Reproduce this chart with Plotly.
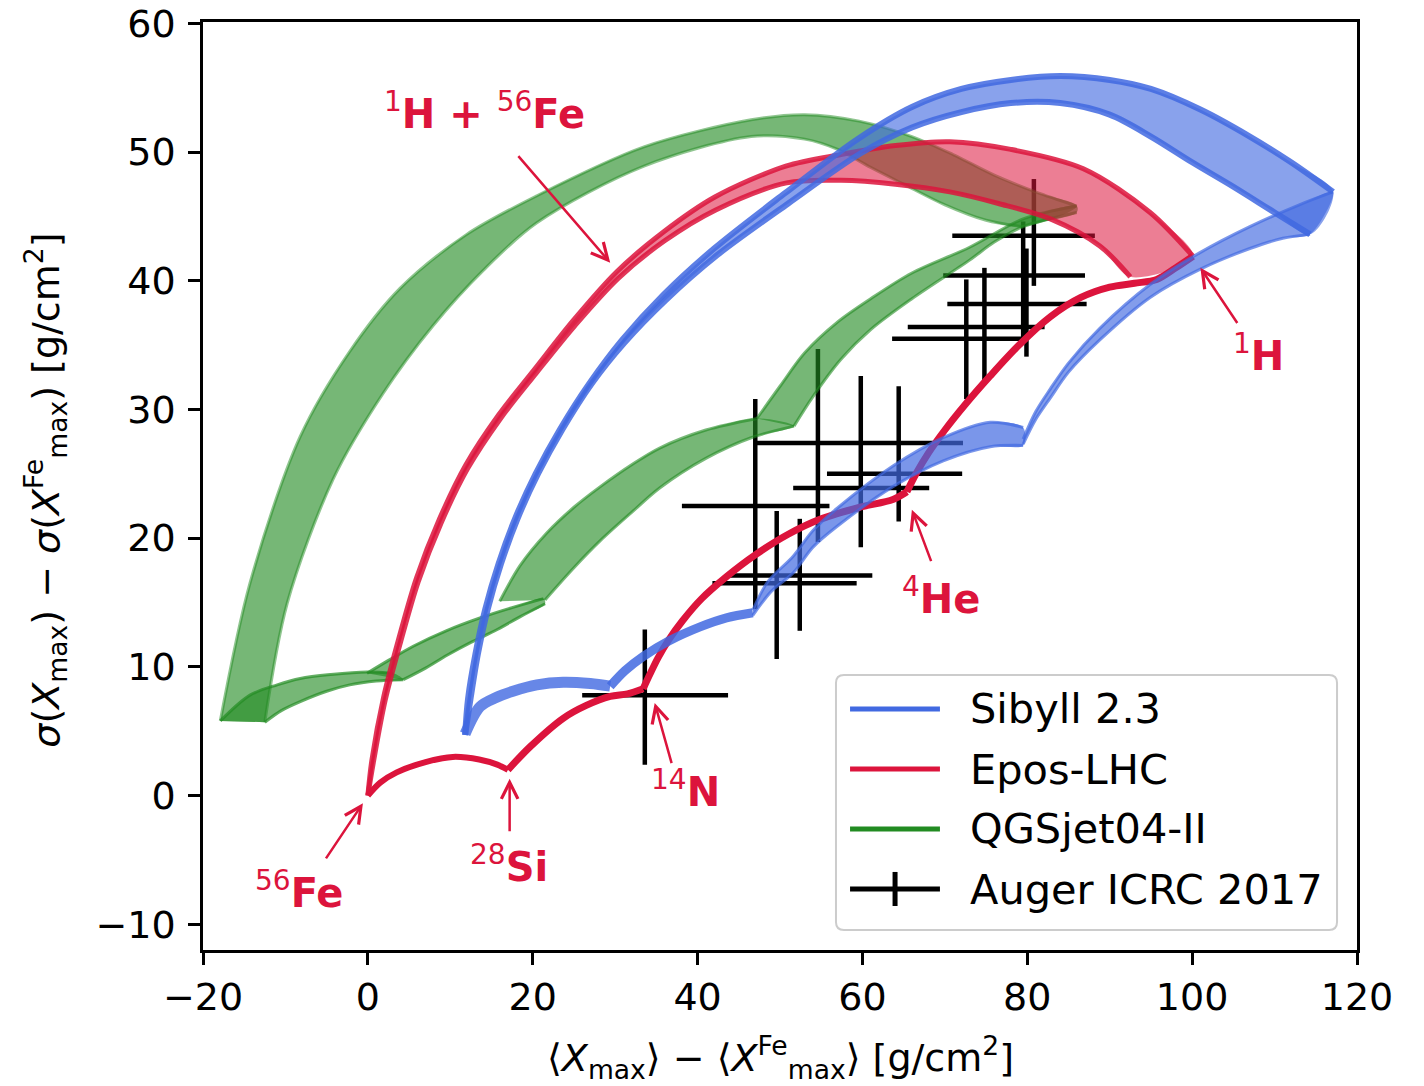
import plotly.graph_objects as go

# ---------------- colours ----------------
BLUE = (65, 105, 225)
RED = (220, 20, 60)
GREEN = (34, 139, 34)

def rgba(c, a):
    return f"rgba({c[0]},{c[1]},{c[2]},{a})"

# ---------------- Auger ICRC 2017 data ----------------
auger_x = [33.6, 49.6, 52.4, 47.0, 54.6, 59.8, 64.4, 72.6, 74.8, 79.5, 79.9, 80.8]
auger_y = [7.8, 16.5, 17.1, 22.5, 27.4, 23.9, 25.0, 35.5, 36.4, 40.4, 38.2, 43.5]
auger_x_lo = [26.0, 41.8, 43.9, 38.1, 47.0, 51.6, 55.7, 63.6, 65.5, 69.8, 70.3, 70.9]
auger_x_hi = [43.7, 59.3, 61.2, 56.0, 72.2, 68.1, 72.1, 80.0, 82.1, 87.0, 87.2, 88.2]
auger_y_lo = [2.4, 10.6, 12.8, 14.5, 19.7, 19.3, 21.3, 30.8, 32.1, 35.5, 34.1, 39.6]
auger_y_hi = [12.9, 22.1, 21.5, 30.8, 34.7, 32.6, 31.8, 40.1, 41.0, 44.6, 42.5, 47.9]

# ---------------- Epos-LHC ----------------
epos_fe_si_x = [0.0, 1.5, 3.5, 7.0, 10.3, 13.5, 15.7, 17.0]
epos_fe_si_y = [0.0, 1.0, 1.8, 2.6, 3.0, 2.8, 2.4, 2.0]
epos_si_n_x = [17.0, 19.7, 23.7, 26.5, 29.4, 31.5, 33.4]
epos_si_n_y = [2.0, 3.8, 6.0, 7.0, 7.7, 7.9, 8.3]
epos_n_he_x = [33.4, 34.2, 35.2, 36.5, 38.2, 40.5, 43.5, 47.0, 51.0, 55.0, 59.7, 63.7, 65.4]
epos_n_he_y = [8.3, 9.4, 10.7, 12.1, 13.6, 15.3, 17.0, 18.7, 20.3, 21.5, 22.4, 23.0, 23.6]
epos_he_h_x = [65.4, 66.5, 68.0, 70.0, 72.5, 75.5, 79.0, 82.8, 86.5, 90.0, 93.0, 95.7, 98.0, 100.1]
epos_he_h_y = [23.6, 25.0, 26.6, 28.4, 30.4, 32.6, 35.0, 37.2, 38.7, 39.5, 39.8, 40.1, 41.0, 41.9]
epos_hfe_hi_x = [0.0, 0.5, 1.9, 3.8, 5.9, 8.7, 11.9, 15.9, 20.2, 24.9, 30.2, 35.9, 42.1, 50.7, 57.4, 64.0, 70.6, 78.0, 86.8, 94.9, 100.1]
epos_hfe_hi_y = [0.0, 2.8, 7.6, 12.3, 16.9, 21.5, 25.7, 29.6, 33.1, 36.9, 40.7, 43.8, 46.5, 48.9, 49.8, 50.5, 50.8, 50.2, 48.7, 45.3, 41.9]
epos_hfe_lo_x = [0.0, 0.7, 2.1, 4.0, 6.1, 8.9, 12.1, 16.1, 20.4, 25.1, 30.4, 36.0, 42.2, 50.8, 57.4, 64.0, 70.6, 76.5, 82.8, 88.8, 92.5]
epos_hfe_lo_y = [0.0, 2.7, 7.4, 12.0, 16.6, 21.2, 25.4, 29.3, 32.8, 36.5, 40.2, 43.1, 45.5, 47.6, 47.8, 47.5, 46.9, 46.0, 44.8, 42.7, 40.3]

# ---------------- Sibyll 2.3 ----------------
sib_fe_si_x = [11.8, 13.6, 15.5, 17.6, 20.5, 23.7, 27.0, 29.4]
sib_fe_si_y = [4.8, 6.9, 7.6, 8.1, 8.6, 8.8, 8.7, 8.5]
sib_si_n_x = [29.4, 31.2, 33.4, 36.5, 40.3, 43.5, 46.7]
sib_si_n_y = [8.5, 9.7, 10.8, 12.0, 13.1, 13.8, 14.2]
sib_n_he_hi_x = [46.7, 48.5, 51.6, 54.0, 56.9, 63.7, 69.8, 75.5, 79.5]
sib_n_he_hi_y = [14.4, 16.6, 18.6, 20.6, 22.3, 25.6, 27.8, 29.0, 28.6]
sib_n_he_lo_x = [46.7, 49.0, 51.6, 54.0, 56.9, 63.7, 69.8, 75.5, 79.5]
sib_n_he_lo_y = [14.0, 15.9, 17.3, 19.3, 20.9, 24.0, 26.0, 27.1, 27.2]
sib_he_h_hi_x = [79.5, 81.0, 82.8, 85.0, 88.8, 94.9, 101.0, 107.0, 113.0, 117.1]
sib_he_h_hi_y = [27.7, 29.8, 31.6, 33.6, 36.3, 39.7, 42.2, 44.2, 45.9, 46.9]
sib_he_h_lo_x = [79.5, 81.0, 82.8, 85.0, 88.8, 94.9, 101.0, 107.0, 111.0, 114.3]
sib_he_h_lo_y = [27.3, 29.2, 30.9, 32.9, 35.4, 38.7, 40.9, 42.5, 43.3, 43.6]
sib_hfe_hi_x = [11.8, 12.15, 13.05, 14.25, 15.85, 17.85, 20.35, 23.35, 26.85, 30.85, 35.85, 42.0, 50.6, 59.4, 66.0, 72.0, 78.0, 84.0, 90.0, 95.0, 101.0, 107.0, 112.0, 117.1]
sib_hfe_hi_y = [4.7, 7.5, 11.0, 14.5, 18.0, 21.5, 25.0, 28.5, 32.0, 35.4, 38.9, 42.5, 46.8, 51.0, 53.5, 54.9, 55.6, 55.9, 55.6, 54.9, 53.3, 51.2, 49.2, 46.9]
sib_hfe_lo_x = [11.8, 12.45, 13.35, 14.55, 16.15, 18.15, 20.65, 23.65, 27.15, 31.15, 36.15, 42.4, 51.0, 59.8, 66.0, 72.0, 78.0, 84.0, 90.0, 95.0, 100.0, 105.0, 110.0, 114.3]
sib_hfe_lo_y = [4.7, 7.5, 11.0, 14.5, 18.0, 21.5, 25.0, 28.5, 32.0, 35.2, 38.5, 42.0, 46.0, 49.9, 51.9, 53.1, 53.8, 53.8, 52.9, 51.2, 49.2, 47.3, 45.3, 43.6]

# ---------------- QGSjet04-II ----------------
qgs_fe_si_hi_x = [-17.9, -14.3, -11.0, -8.2, -4.5, -0.1, 3.1]
qgs_fe_si_hi_y = [5.8, 7.8, 8.6, 9.1, 9.4, 9.6, 9.5]
qgs_fe_si_lo_x = [-12.5, -10.5, -8.2, -5.0, -2.2, 1.0, 4.3]
qgs_fe_si_lo_y = [5.7, 6.6, 7.3, 8.1, 8.6, 8.9, 9.0]
qgs_si_n_hi_x = [-0.1, 2.5, 5.5, 9.5, 13.6, 17.5, 21.3]
qgs_si_n_hi_y = [9.5, 10.5, 11.6, 12.8, 13.8, 14.6, 15.3]
qgs_si_n_lo_x = [4.3, 7.0, 9.6, 12.5, 15.7, 18.5, 21.5]
qgs_si_n_lo_y = [9.0, 9.9, 10.9, 11.9, 12.9, 13.9, 14.9]
qgs_n_he_hi_x = [16.0, 18.5, 21.7, 25.0, 28.2, 32.0, 35.4, 41.0, 47.2]
qgs_n_he_hi_y = [15.1, 17.9, 20.4, 22.4, 24.0, 25.7, 27.0, 28.4, 29.3]
qgs_n_he_lo_x = [21.5, 25.0, 28.2, 32.0, 35.4, 41.0, 46.5, 51.7]
qgs_n_he_lo_y = [15.2, 17.7, 19.8, 22.0, 23.9, 26.2, 27.8, 28.7]
qgs_he_h_hi_x = [47.2, 50.0, 53.0, 57.0, 61.0, 66.0, 73.0, 79.5, 86.0]
qgs_he_h_hi_y = [29.3, 31.8, 34.4, 36.8, 38.6, 40.6, 42.6, 44.8, 45.8]
qgs_he_h_lo_x = [51.7, 54.0, 57.4, 61.0, 66.0, 73.0, 76.0, 79.5, 86.0]
qgs_he_h_lo_y = [28.7, 31.0, 33.9, 36.2, 38.6, 41.6, 43.0, 44.2, 45.3]
qgs_hfe_hi_x = [-17.9, -14.3, -8.2, -2.2, 3.9, 12.0, 20.5, 33.5, 46.5, 53.0, 59.6, 66.0, 71.0, 76.0, 81.0, 86.0]
qgs_hfe_hi_y = [5.8, 16.5, 27.9, 34.5, 39.4, 43.6, 46.6, 50.4, 52.5, 52.9, 52.4, 51.2, 49.8, 48.2, 46.9, 45.8]
qgs_hfe_lo_x = [-12.5, -9.8, -4.2, 1.8, 7.9, 14.0, 20.5, 33.5, 46.5, 53.0, 57.0, 61.0, 65.0, 70.0, 75.0, 79.5]
qgs_hfe_lo_y = [5.7, 14.9, 24.6, 31.2, 36.5, 40.8, 44.5, 48.9, 51.2, 51.0, 50.2, 48.8, 47.5, 45.9, 44.7, 44.2]

# ---------------- labels ----------------
x_ticks = [-20, 0, 20, 40, 60, 80, 100, 120]
y_ticks = [-10, 0, 10, 20, 30, 40, 50, 60]
legend_labels = ["Sibyll 2.3", "Epos-LHC", "QGSjet04-II", "Auger ICRC 2017"]

SMOOTH = 0.9
fig = go.Figure()

# Auger data (drawn first, underneath the model curves)
fig.add_trace(go.Scatter(
    x=auger_x, y=auger_y, mode="markers", name="Auger ICRC 2017",
    marker=dict(size=2, color="rgba(0,0,0,0)"),
    error_x=dict(type="data", symmetric=False,
                 array=[h - v for h, v in zip(auger_x_hi, auger_x)],
                 arrayminus=[v - l for v, l in zip(auger_x, auger_x_lo)],
                 thickness=4.5, width=0, color="black"),
    error_y=dict(type="data", symmetric=False,
                 array=[h - v for h, v in zip(auger_y_hi, auger_y)],
                 arrayminus=[v - l for v, l in zip(auger_y, auger_y_lo)],
                 thickness=4.5, width=0, color="black"),
    showlegend=False, hoverinfo="skip"))


def add_band(xa, ya, xb, yb, color, name, fill_a=0.55, edge_a=0.8, edge_w=3):
    fig.add_trace(go.Scatter(
        x=list(xa) + list(xb)[::-1], y=list(ya) + list(yb)[::-1],
        mode="lines", fill="toself", fillcolor=rgba(color, fill_a),
        line=dict(width=0, shape="spline", smoothing=SMOOTH),
        name=name, showlegend=False, hoverinfo="skip"))
    for xs, ys in ((xa, ya), (xb, yb)):
        fig.add_trace(go.Scatter(
            x=xs, y=ys, mode="lines", name=name,
            line=dict(color=rgba(color, edge_a), width=edge_w, shape="spline", smoothing=SMOOTH),
            showlegend=False, hoverinfo="skip"))


def add_line(xs, ys, color, name, width, alpha):
    fig.add_trace(go.Scatter(
        x=xs, y=ys, mode="lines", name=name,
        line=dict(color=rgba(color, alpha), width=width, shape="spline", smoothing=SMOOTH),
        showlegend=False, hoverinfo="skip"))

# QGSjet04-II (green)
add_band(qgs_hfe_hi_x, qgs_hfe_hi_y, qgs_hfe_lo_x, qgs_hfe_lo_y, GREEN, "QGSjet04-II", 0.62, 0.5, 3)
add_band(qgs_fe_si_hi_x, qgs_fe_si_hi_y, qgs_fe_si_lo_x, qgs_fe_si_lo_y, GREEN, "QGSjet04-II", 0.62, 0.7, 3)
add_band(qgs_si_n_hi_x, qgs_si_n_hi_y, qgs_si_n_lo_x, qgs_si_n_lo_y, GREEN, "QGSjet04-II", 0.62, 0.7, 3)
add_band(qgs_n_he_hi_x, qgs_n_he_hi_y, qgs_n_he_lo_x, qgs_n_he_lo_y, GREEN, "QGSjet04-II", 0.62, 0.6, 3)
add_band(qgs_he_h_hi_x, qgs_he_h_hi_y, qgs_he_h_lo_x, qgs_he_h_lo_y, GREEN, "QGSjet04-II", 0.62, 0.6, 3)

# Epos-LHC (red)
add_band(epos_hfe_hi_x, epos_hfe_hi_y, epos_hfe_lo_x, epos_hfe_lo_y, RED, "Epos-LHC", 0.55, 0.85, 5)
add_line(epos_fe_si_x, epos_fe_si_y, RED, "Epos-LHC", 6, 1.0)
add_line(epos_si_n_x, epos_si_n_y, RED, "Epos-LHC", 7, 1.0)
add_line(epos_n_he_x, epos_n_he_y, RED, "Epos-LHC", 7, 1.0)
add_line(epos_he_h_x, epos_he_h_y, RED, "Epos-LHC", 7, 1.0)

# Sibyll 2.3 (blue)
add_line(sib_fe_si_x, sib_fe_si_y, BLUE, "Sibyll 2.3", 11, 0.8)
add_line(sib_si_n_x, sib_si_n_y, BLUE, "Sibyll 2.3", 9, 0.85)
add_band(sib_n_he_hi_x, sib_n_he_hi_y, sib_n_he_lo_x, sib_n_he_lo_y, BLUE, "Sibyll 2.3", 0.7, 0.7, 3)
add_band(sib_he_h_hi_x, sib_he_h_hi_y, sib_he_h_lo_x, sib_he_h_lo_y, BLUE, "Sibyll 2.3", 0.65, 0.7, 3)
add_band(sib_hfe_hi_x, sib_hfe_hi_y, sib_hfe_lo_x, sib_hfe_lo_y, BLUE, "Sibyll 2.3", 0.62, 0.85, 6)

# ---------------- annotations ----------------
FONT = "DejaVu Sans"
ann = []
labels = [
    ("<sup>1</sup><b>H + </b><sup>56</sup><b>Fe</b>", 14.1, 53.2),
    ("<sup>56</sup><b>Fe</b>", -8.3, -7.3),
    ("<sup>28</sup><b>Si</b>", 17.1, -5.3),
    ("<sup>14</sup><b>N</b>", 38.5, 0.5),
    ("<sup>4</sup><b>He</b>", 69.5, 15.5),
    ("<sup>1</sup><b>H</b>", 108.0, 34.4),
]
for t, x, y in labels:
    ann.append(dict(x=x, y=y, xref="x", yref="y", text=t, showarrow=False,
                    font=dict(family=FONT, size=40, color=rgba(RED, 1)),
                    xanchor="center", yanchor="middle"))
arrows = [  # (tail x, tail y, tip x, tip y)
    (18.1, 49.8, 29.4, 41.4),
    (-5.2, -5.0, -0.6, -0.6),
    (17.2, -2.9, 17.2, 1.3),
    (36.9, 2.4, 34.8, 7.2),
    (68.4, 18.1, 66.0, 22.2),
    (105.6, 36.6, 101.0, 41.0),
]
for ax, ay, x, y in arrows:
    ann.append(dict(x=x, y=y, ax=ax, ay=ay, xref="x", yref="y", axref="x", ayref="y",
                    text="", showarrow=True, arrowhead=5, arrowsize=1.3, arrowwidth=2.5,
                    arrowcolor=rgba(RED, 1), standoff=0, startstandoff=0))

# axis titles
ann.append(dict(x=0.5, y=-0.116, xref="paper", yref="paper", showarrow=False,
                text="⟨<i>X</i><sub>max</sub>⟩ − ⟨<i>X</i><sup>Fe</sup><sub>max</sub>⟩ [g/cm<sup>2</sup>]",
                font=dict(family=FONT, size=38, color="black"), xanchor="center", yanchor="middle"))
ann.append(dict(x=-0.136, y=0.495, xref="paper", yref="paper", showarrow=False, textangle=-90,
                text="<i>σ</i>(<i>X</i><sub>max</sub>) − <i>σ</i>(<i>X</i><sup>Fe</sup><sub>max</sub>) [g/cm<sup>2</sup>]",
                font=dict(family=FONT, size=38, color="black"), xanchor="center", yanchor="middle"))

# ---------------- hand-made legend ----------------
shapes = []
bx0, bx1, by0, by1 = 0.5485, 0.9827, 0.0216, 0.2963
rx, ry = 8 / 1154, 8 / 928
path = (f"M {bx0+rx},{by0} L {bx1-rx},{by0} Q {bx1},{by0} {bx1},{by0+ry} "
        f"L {bx1},{by1-ry} Q {bx1},{by1} {bx1-rx},{by1} L {bx0+rx},{by1} "
        f"Q {bx0},{by1} {bx0},{by1-ry} L {bx0},{by0+ry} Q {bx0},{by0} {bx0+rx},{by0} Z")
shapes.append(dict(type="path", path=path, xref="paper", yref="paper",
                   line=dict(color="#cccccc", width=2), fillcolor="rgba(255,255,255,0.8)", layer="above"))
row_y = [0.2597, 0.1950, 0.1304, 0.0657]
leg_colors = [rgba(BLUE, 1), rgba(RED, 1), rgba(GREEN, 1), "black"]
for i, (lab, col) in enumerate(zip(legend_labels, leg_colors)):
    shapes.append(dict(type="line", xref="paper", yref="paper", x0=0.5607, x1=0.6386,
                       y0=row_y[i], y1=row_y[i], line=dict(color=col, width=5), layer="above"))
    ann.append(dict(x=0.6629, y=row_y[i], xref="paper", yref="paper", text=lab, showarrow=False,
                    font=dict(family=FONT, size=41.5, color="black"), xanchor="left", yanchor="middle"))
shapes.append(dict(type="line", xref="paper", yref="paper", x0=0.5997, x1=0.5997,
                   y0=0.0474, y1=0.0841, line=dict(color="black", width=5), layer="above"))

axis_common = dict(showline=True, linecolor="black", linewidth=2.5, mirror=True,
                   ticks="outside", ticklen=12, tickwidth=2.5, tickcolor="black",
                   showgrid=False, zeroline=False, automargin=False,
                   tickfont=dict(family=FONT, size=38, color="black"))

fig.update_layout(
    width=1424, height=1086,
    margin=dict(l=203, r=67, t=22, b=136, autoexpand=False),
    plot_bgcolor="white", paper_bgcolor="white",
    showlegend=False,
    font=dict(family=FONT, size=38, color="black"),
    xaxis=dict(range=[-20, 120], tickvals=x_ticks, **axis_common),
    yaxis=dict(range=[-12, 60.1], tickvals=y_ticks, ticklabelstandoff=5, **axis_common),
    annotations=ann, shapes=shapes,
)

fig.write_html("out.html")
